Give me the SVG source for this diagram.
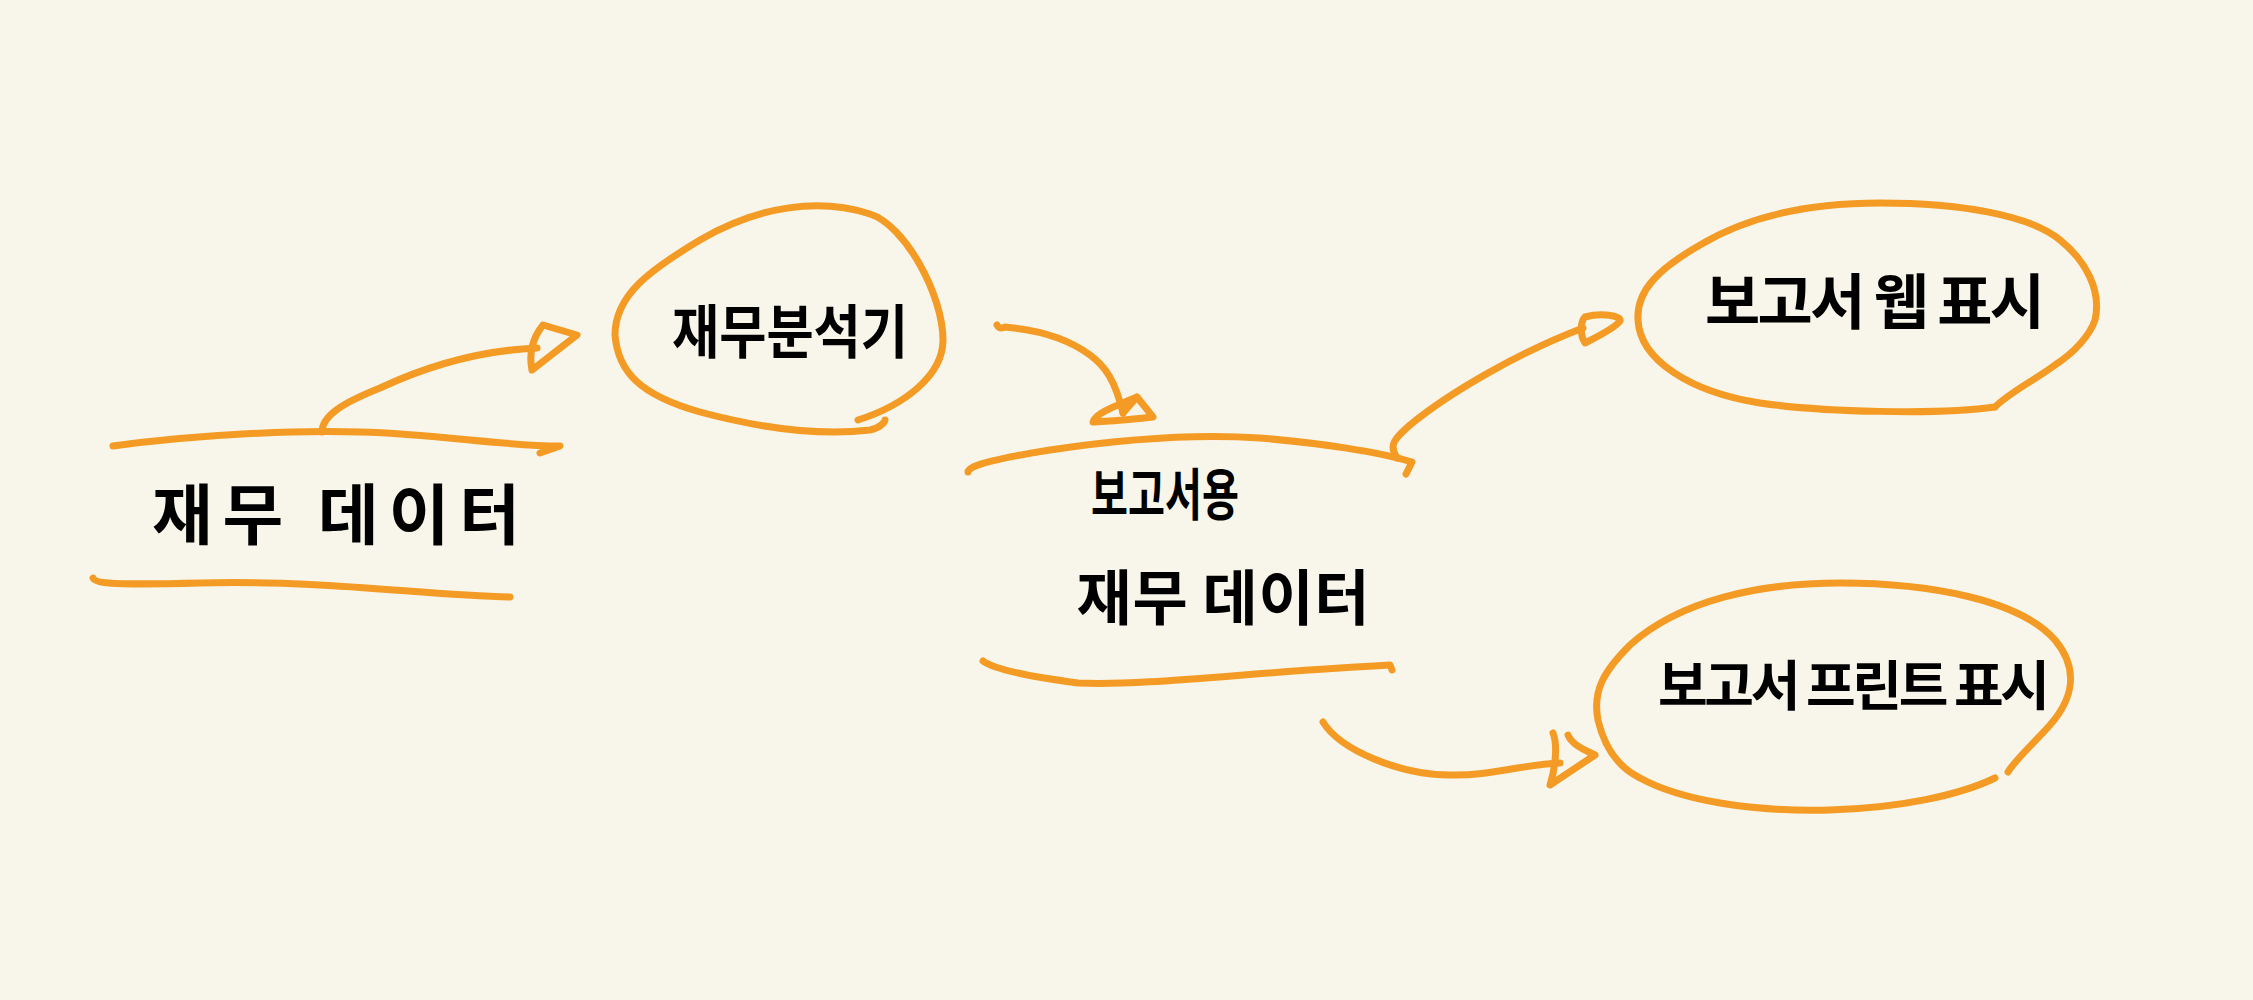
<svg xmlns="http://www.w3.org/2000/svg" width="2253" height="1000" viewBox="0 0 2253 1000">
<style>
.s{fill:none;stroke:#f49b25;stroke-width:7;stroke-linecap:round;stroke-linejoin:round}
.t{font-family:"Noto Sans CJK KR","Noto Sans CJK SC",sans-serif;font-weight:700;fill:#000;text-anchor:middle;dominant-baseline:central}
</style>
<rect width="2253" height="1000" fill="#f8f6ea"/>
<g id="connectors">
<path class="s" d="M322,432 C322,415 345,402 380,388 C440,360 490,350 537,348"/>
<path class="s" d="M532,370 L577,335 L543,325 C535,335 528,350 532,370 Z"/>
<path class="s" d="M997,325 C1000,330 1002,328 1005,327 C1040,330 1070,340 1090,355 C1105,366 1115,380 1123,413"/>
<path class="s" d="M1123,413 L1137,397 L1153,417 C1130,420 1110,421 1093,422 C1095,414 1110,408 1137,397"/>
<path class="s" d="M1397,458 C1388,445 1395,438 1410,425 C1450,392 1520,352 1583,328"/>
<path class="s" d="M1585,317 C1600,313 1622,315 1620,321 C1615,328 1595,338 1585,343 C1580,335 1580,322 1585,317 Z"/>
<path class="s" d="M1323,722 C1340,750 1400,775 1450,775 C1490,776 1520,765 1560,763"/>
<path class="s" d="M1553,733 C1558,745 1555,770 1550,785 L1595,755 C1585,750 1572,745 1568,735"/>
</g>
<g id="node-financial-data">
<path class="s" d="M113,446 C200,434 300,430 360,432 C440,434 500,446 560,446 L540,453"/>
<path class="s" d="M93,578 C95,584 120,585 200,583 C330,580 420,595 510,597"/>
<text class="t" x="336" y="510" font-size="66" textLength="368" lengthAdjust="spacing">재무 데이터</text>
</g>
<g id="node-analyzer">
<path class="s" d="M858,420 C905,405 943,375 943,340 C943,295 905,225 870,214 C820,198 760,205 700,240 C650,270 615,295 615,335 C618,372 640,395 700,412 C760,428 820,436 870,430 C880,428 885,422 885,420"/>
<text class="t" x="790" y="328" font-size="58" textLength="236" lengthAdjust="spacingAndGlyphs">재무분석기</text>
</g>
<g id="node-report-data">
<path class="s" d="M968,472 C968,465 1000,458 1050,450 C1130,438 1200,434 1260,438 C1320,443 1380,452 1412,462 L1406,474"/>
<path class="s" d="M983,661 C995,670 1040,678 1078,683 C1150,686 1250,672 1390,665 L1392,670"/>
<text class="t" x="1165" y="490" font-size="56" textLength="148" lengthAdjust="spacingAndGlyphs">보고서용</text>
<text class="t" x="1223" y="593" font-size="60" textLength="293" lengthAdjust="spacing">재무 데이터</text>
</g>
<g id="node-web">
<path class="s" d="M1995,407 C1940,415 1820,412 1760,403 C1690,392 1640,360 1638,320 C1636,290 1660,268 1700,245 C1750,215 1810,203 1880,203 C1960,203 2030,215 2060,240 C2085,260 2102,290 2095,320 C2090,335 2075,352 2055,365 C2035,380 2010,392 1995,407"/>
<text class="t" x="1875" y="297" font-size="60" textLength="340" lengthAdjust="spacing">보고서 웹 표시</text>
</g>
<g id="node-print">
<path class="s" d="M1995,778 C1960,795 1900,808 1830,810 C1750,812 1680,800 1640,778 C1620,768 1605,750 1598,720 C1592,690 1605,670 1630,645 C1680,600 1760,583 1840,583 C1930,583 2020,600 2055,640 C2080,670 2072,700 2050,725 C2035,742 2015,760 2008,772"/>
<text class="t" x="1854" y="682" font-size="54" textLength="392" lengthAdjust="spacing">보고서 프린트 표시</text>
</g>
</svg>
